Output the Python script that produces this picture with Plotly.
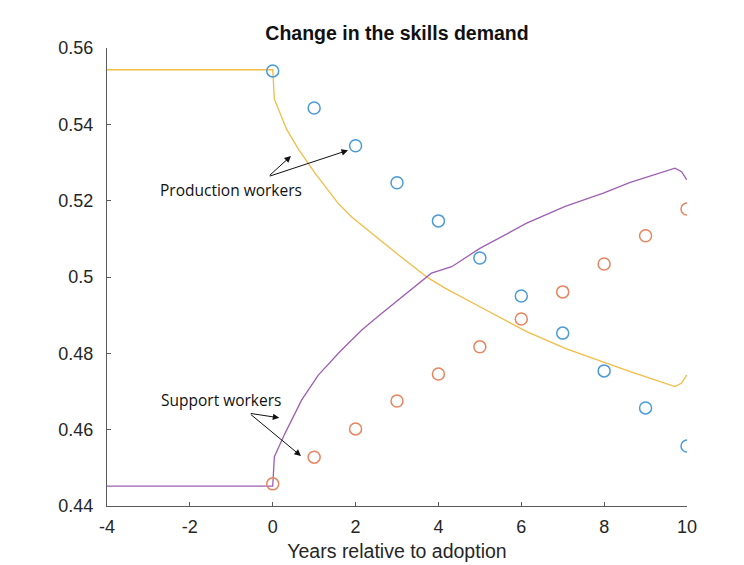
import plotly.graph_objects as go

# Survey-year grid for the point estimates
years = [0, 1, 2, 3, 4, 5, 6, 7, 8, 9, 10]

# Point estimates (circles)
production_points = [0.5540, 0.5443, 0.5344, 0.5247, 0.5147, 0.5050,
                     0.4950, 0.4853, 0.4754, 0.4657, 0.4557]
support_points = [0.4458, 0.4528, 0.4602, 0.4675, 0.4746, 0.4817,
                  0.4890, 0.4961, 0.5034, 0.5108, 0.5178]

# Model paths (lines)
production_path_x = [-4, 0, 0.04, 0.34, 0.62, 1.02, 1.58, 1.90, 2.59, 3.03,
                     3.76, 4.16, 5.0, 6.13, 7.06, 7.98, 8.63, 9.71, 9.87, 9.99]
production_path_y = [0.5543, 0.5543, 0.5466, 0.5386, 0.5335, 0.5272, 0.5193,
                     0.5158, 0.5097, 0.5058, 0.4997, 0.4971, 0.4922, 0.4857,
                     0.4813, 0.4778, 0.4752, 0.4713, 0.4722, 0.4743]

support_path_x = [-4, 0, 0.04, 0.30, 0.70, 1.10, 1.62, 2.15, 2.59, 3.03, 3.35,
                  3.83, 4.32, 5.0, 6.13, 7.06, 7.98, 8.63, 9.71, 9.87, 9.99]
support_path_y = [0.4452, 0.4452, 0.4529, 0.4591, 0.4678, 0.4743, 0.4804,
                  0.4861, 0.4901, 0.4940, 0.4966, 0.5010, 0.5027, 0.5075,
                  0.5141, 0.5185, 0.5220, 0.5248, 0.5285, 0.5276, 0.5255]

x_ticks = [-4, -2, 0, 2, 4, 6, 8, 10]
x_tick_labels = ["-4", "-2", "0", "2", "4", "6", "8", "10"]
y_ticks = [0.44, 0.46, 0.48, 0.50, 0.52, 0.54, 0.56]
y_tick_labels = ["0.44", "0.46", "0.48", "0.5", "0.52", "0.54", "0.56"]

BLUE = "#4A9BD9"
ORANGE = "#E8845E"
YELLOW = "#F2BC45"
PURPLE = "#9E5FB3"

fig = go.Figure()

fig.add_trace(go.Scatter(x=production_path_x, y=production_path_y, mode="lines",
                         line=dict(color=YELLOW, width=1.3), showlegend=False))
fig.add_trace(go.Scatter(x=support_path_x, y=support_path_y, mode="lines",
                         line=dict(color=PURPLE, width=1.3), showlegend=False))
fig.add_trace(go.Scatter(x=years, y=production_points, mode="markers",
                         marker=dict(symbol="circle-open", size=12, color=BLUE,
                                     line=dict(width=1.5, color=BLUE)),
                         showlegend=False))
fig.add_trace(go.Scatter(x=years, y=support_points, mode="markers",
                         marker=dict(symbol="circle-open", size=12, color=ORANGE,
                                     line=dict(width=1.5, color=ORANGE)),
                         showlegend=False))

label_font = dict(family="Open Sans, Noto Sans, sans-serif", size=15.5, color="#111111")

# Text labels
fig.add_annotation(x=-1.0, y=0.5228, xref="x", yref="y", text="Production workers",
                   showarrow=False, font=label_font, xanchor="center", yanchor="middle")
fig.add_annotation(x=-1.26, y=0.4679, xref="x", yref="y", text="Support workers",
                   showarrow=False, font=label_font, xanchor="center", yanchor="middle")

# Arrows: (tail) -> (head)
arrows = [
    ((-0.107, 0.5263), (0.441, 0.5317)),
    ((-0.107, 0.5263), (1.817, 0.5332)),
    ((-0.565, 0.4643), (0.159, 0.4631)),
    ((-0.565, 0.4643), (0.683, 0.4531)),
]
for (tx, ty), (hx, hy) in arrows:
    fig.add_annotation(x=hx, y=hy, ax=tx, ay=ty, xref="x", yref="y",
                       axref="x", ayref="y", text="", showarrow=True,
                       arrowhead=2, arrowsize=1.3, arrowwidth=1,
                       arrowcolor="#111111")

tick_font = dict(family="Liberation Sans, Arial, sans-serif", size=18, color="#262626")
axis_common = dict(showline=True, linecolor="#5a5a5a", linewidth=1,
                   ticks="inside", ticklen=4, tickcolor="#5a5a5a",
                   showgrid=False, zeroline=False, mirror=False,
                   automargin=False, tickfont=tick_font)

fig.update_xaxes(range=[-4, 10], tickvals=x_ticks, ticktext=x_tick_labels,
                 ticklabelstandoff=4,
                 title=dict(text="Years relative to adoption", standoff=8,
                            font=dict(family="Liberation Sans, Arial, sans-serif",
                                      size=19.5, color="#262626")),
                 **axis_common)
fig.update_yaxes(range=[0.44, 0.56], tickvals=y_ticks, ticktext=y_tick_labels,
                 ticklabelstandoff=9, **axis_common)

fig.update_layout(
    width=744, height=565,
    margin=dict(l=107, r=57, t=48, b=59),
    paper_bgcolor="white", plot_bgcolor="white",
    title=dict(text="<b>Change in the skills demand</b>",
               x=(107 + 687) / 2 / 744, xanchor="center",
               y=1 - 33 / 565, yanchor="middle", yref="container",
               font=dict(family="Liberation Sans, Arial, sans-serif",
                         size=19.5, color="#111111")),
)

fig.write_html("out.html")
